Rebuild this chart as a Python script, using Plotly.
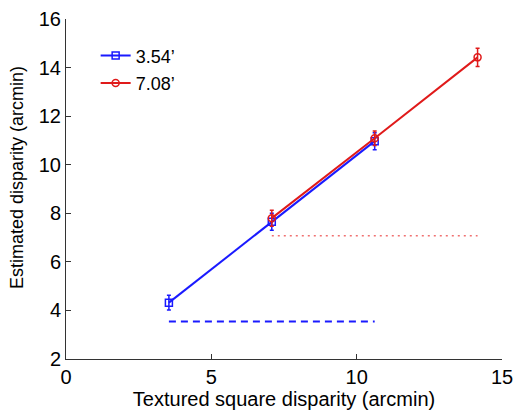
import plotly.graph_objects as go

# Data
x_small = [3.54, 7.08, 10.62]
y_small = [4.32, 7.65, 10.97]
e_small = [0.3, 0.35, 0.35]

x_large = [7.08, 10.62, 14.16]
y_large = [7.80, 11.09, 14.42]
e_large = [0.33, 0.3, 0.38]

ref_small_x = [3.54, 10.62]
ref_small_y = [3.54, 3.54]
ref_large_x = [7.08, 14.16]
ref_large_y = [7.08, 7.08]

names = ["3.54\u2019", "7.08\u2019"]
x_title = "Textured square disparity (arcmin)"
y_title = "Estimated disparity (arcmin)"
BLUE = "#1a1aff"
RED = "#e01a1a"

fig = go.Figure()
fig.add_trace(go.Scatter(
    x=x_small, y=y_small, mode="lines+markers", name=names[0],
    line=dict(color=BLUE, width=2),
    marker=dict(symbol="square-open", size=7, color=BLUE, line=dict(width=1.5)),
    error_y=dict(type="data", array=e_small, color=BLUE, thickness=1.5, width=2),
    legendgroup="a",
))
fig.add_trace(go.Scatter(
    x=x_large, y=y_large, mode="lines+markers", name=names[1],
    line=dict(color=RED, width=2),
    marker=dict(symbol="circle-open", size=7, color=RED, line=dict(width=1.5)),
    error_y=dict(type="data", array=e_large, color=RED, thickness=1.5, width=2),
    legendgroup="b",
))
fig.add_trace(go.Scatter(
    x=ref_small_x, y=ref_small_y, mode="lines", showlegend=False,
    line=dict(color=BLUE, width=2, dash="7px,5px"),
))
fig.add_trace(go.Scatter(
    x=ref_large_x, y=ref_large_y, mode="lines", showlegend=False,
    line=dict(color="#f07070", width=1.5, dash="2px,4px"),
))

font = "Liberation Sans, Arial, Helvetica, sans-serif"
fig.update_layout(
    width=514, height=412,
    margin=dict(l=66, r=12, t=19, b=53),
    paper_bgcolor="white", plot_bgcolor="white",
    font=dict(family=font, size=20, color="black"),
    showlegend=True,
    legend=dict(x=0.068, y=0.946, xanchor="left", yanchor="top",
                bgcolor="rgba(0,0,0,0)", font=dict(size=18),
                tracegroupgap=1, traceorder="grouped"),
    xaxis=dict(range=[0, 15], tickvals=[0, 5, 10, 15], showgrid=False,
               zeroline=False, showline=True, linecolor="#333", linewidth=1,
               ticks="inside", ticklen=5, tickcolor="#333", automargin=False,
               title=dict(text=x_title, standoff=1, font=dict(size=20))),
    yaxis=dict(range=[2, 16], tickvals=[2, 4, 6, 8, 10, 12, 14, 16], showgrid=False,
               zeroline=False, showline=True, linecolor="#333", linewidth=1,
               ticks="inside", ticklen=5, tickcolor="#333", automargin=False),
    annotations=[dict(text=y_title, xref="paper", yref="paper",
                      x=-0.1124, y=0.535, xanchor="center", yanchor="middle",
                      textangle=-90, showarrow=False, font=dict(size=18))],
)
fig.write_html("out.html", config={"displayModeBar": False},
               post_script="document.body.style.margin='0';")
